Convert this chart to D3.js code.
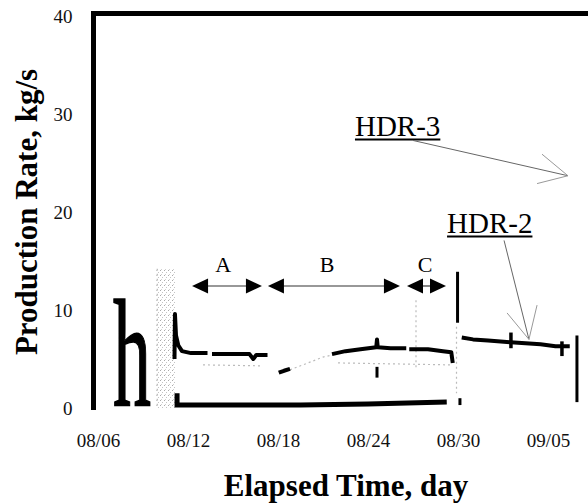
<!DOCTYPE html>
<html>
<head>
<meta charset="utf-8">
<script src="https://cdn.jsdelivr.net/npm/d3@7"></script>
<style>
body { margin: 0; background: #fff; }
svg text { font-family: "Liberation Serif", "Times New Roman", serif; }
</style>
</head>
<body>
<div id="chart"></div>
<script>
/* production rate vs elapsed time */

const width = 588, height = 504;

// days counted from 08/06
const tickDays = [0, 6, 12, 18, 24, 30];
const yTicks = [0, 10, 20, 30, 40];

// upper trace, before the restart ([day, kg/s], null = gap)
const hdr3Early = [[5.10, 5.0], [5.13, 9.6], [5.2, 7.4], [5.35, 6.4], [5.6, 5.8], [6.2, 5.6], [7.3, 5.6], null,
    [7.6, 5.5], [9.0, 5.5], [10.1, 5.5], [10.35, 5.0], [10.55, 5.4], [11.3, 5.4]];
const hdr3Dip = [[12.05, 3.6], [12.4, 3.8], [12.8, 4.0]];
const hdr3Late = [[15.6, 5.5], [16.5, 5.8], [17.5, 6.0], [18.55, 6.2], [18.6, 7.0], [18.65, 6.2], [19.5, 6.1],
    [20.55, 6.1], null, [20.75, 6.0], [22.0, 6.0], [23.0, 5.8], [23.55, 5.7], [23.65, 4.6]];
const hdr3Tick = [[18.6, 4.2], [18.6, 3.1]];
const restartSpike = [[23.97, 13.9], [23.97, 8.7]];
// HDR-2 after 08/30
const hdr2 = [[24.25, 7.2], [25.0, 7.0], [26.0, 6.9], [27.5, 6.7], [28.5, 6.6], [29.5, 6.5], [30.5, 6.3], [31.45, 6.3]];
const hdr2Spikes = [[27.53, 7.7, 6.1], [30.93, 6.8, 5.3]];
const shutIn = [[31.93, 7.4], [31.93, 0.6]];
// low trace near zero
const lowTrace = [[5.27, 1.5], [5.27, 0.3], [9, 0.3], [13.5, 0.3], [18, 0.4], [23.25, 0.6]];
const lowMark = [[24.13, 0.3], [24.13, 1.0]];
// faint scan traces
const faintTraces = [
    [[12.8, 3.9], [14, 4.6], [15, 5.2], [15.6, 5.4]],
    [[7, 4.4], [11, 4.3]],
    [[16, 4.6], [23.5, 4.4]],
    [[23.9, 8.3], [23.9, 1.5]],
    [[21.2, 11.0], [21.2, 3.9]],
    [[3.95, 14.2], [3.95, 0]]
];
const shadeBand = [3.9, 5.2, 0, 14.2];

// period labels A, B, C
const periodNames = ["A", "B", "C"];
const periodStart = [6.27, 11.33, 20.6];
const periodEnd = [10.93, 20.13, 23.2];
const periodLabelDay = [8.35, 15.27, 21.8];
const periodLevel = 12.45;

const base = new Date(1986, 7, 6);
const toDate = d => new Date(base.getTime() + d * 864e5);

const svg = d3.select("#chart")
    .append("svg")
    .attr("width", width)
    .attr("height", height)
    .attr("font-family", "Liberation Serif");

// speckle texture for the scanned band
const pat = svg.append("defs").append("pattern")
    .attr("id", "speckle")
    .attr("patternUnits", "userSpaceOnUse")
    .attr("width", 4).attr("height", 5);
pat.append("rect").attr("x", 0).attr("y", 0).attr("width", 1).attr("height", 1).attr("fill", "#aaa");
pat.append("rect").attr("x", 2).attr("y", 2).attr("width", 1).attr("height", 1).attr("fill", "#c4c4c4");
pat.append("rect").attr("x", 1).attr("y", 4).attr("width", 1).attr("height", 1).attr("fill", "#d0d0d0");

let x = d3.scaleTime()
    .domain([toDate(0), toDate(30)])
    .range([98, 548]);

let y = d3.scaleLinear()
    .domain([0, 40])
    .range([408, 16]);

let xd = d => x(toDate(d));

svg.append("rect")
    .attr("x", xd(shadeBand[0]))
    .attr("y", y(shadeBand[3]))
    .attr("width", xd(shadeBand[1]) - xd(shadeBand[0]))
    .attr("height", y(shadeBand[2]) - y(shadeBand[3]))
    .attr("fill", "url(#speckle)");

// axes
svg.append("g")
    .attr("transform", `translate(0,${y(0)})`)
    .call(d3.axisBottom(x).tickValues(tickDays.map(toDate)).tickFormat(d3.timeFormat("%m/%d")).tickSize(0).tickPadding(26))
    .call(g => g.select(".domain").remove())
    .selectAll("text")
    .attr("font-family", "Liberation Serif")
    .attr("font-size", 19)
    .attr("fill", "#111");

svg.append("g")
    .attr("transform", `translate(${xd(0) - 4.5},0)`)
    .call(d3.axisLeft(y).tickValues(yTicks).tickSize(0).tickPadding(21))
    .call(g => g.select(".domain").remove())
    .selectAll("text")
    .attr("font-family", "Liberation Serif")
    .attr("font-size", 19)
    .attr("fill", "#111");

// frame: left and top spines
svg.append("line")
    .attr("x1", xd(0) - 4.5).attr("x2", xd(0) - 4.5)
    .attr("y1", y(40) - 5).attr("y2", y(0) + 2)
    .attr("stroke", "#000").attr("stroke-width", 5);
svg.append("line")
    .attr("x1", xd(0) - 7).attr("x2", width)
    .attr("y1", y(40) - 2.5).attr("y2", y(40) - 2.5)
    .attr("stroke", "#000").attr("stroke-width", 5);

// axis titles
svg.append("text")
    .attr("x", 346)
    .attr("y", 496)
    .attr("text-anchor", "middle")
    .attr("font-size", 31)
    .attr("font-weight", "bold")
    .text("Elapsed Time, day");

svg.append("text")
    .attr("transform", "rotate(-90)")
    .attr("x", -212)
    .attr("y", 37)
    .attr("text-anchor", "middle")
    .attr("font-size", 31)
    .attr("font-weight", "bold")
    .text("Production Rate, kg/s");

// stray letter from the scan
svg.append("text")
    .attr("x", 113)
    .attr("y", 405)
    .attr("font-size", 152)
    .attr("textLength", 38)
    .attr("lengthAdjust", "spacingAndGlyphs")
    .attr("stroke", "#000")
    .attr("stroke-width", 1.6)
    .text("h");

let line = d3.line()
    .defined(d => d !== null)
    .x(d => xd(d[0]))
    .y(d => y(d[1]));

for (let t of faintTraces) {
    svg.append("path")
        .datum(t)
        .attr("d", line)
        .attr("fill", "none")
        .attr("stroke", "#bbb")
        .attr("stroke-width", 1.2)
        .attr("stroke-dasharray", "2,3");
}

for (let seg of [hdr3Early, hdr3Dip, hdr3Late, hdr2]) {
    svg.append("path")
        .datum(seg)
        .attr("d", line)
        .attr("fill", "none")
        .attr("stroke", "#000")
        .attr("stroke-width", 4)
        .attr("stroke-linejoin", "round");
}

for (let seg of [hdr3Tick, restartSpike, shutIn, lowMark]) {
    svg.append("path")
        .datum(seg)
        .attr("d", line)
        .attr("fill", "none")
        .attr("stroke", "#000")
        .attr("stroke-width", 3);
}

svg.append("path")
    .datum(lowTrace)
    .attr("d", line)
    .attr("fill", "none")
    .attr("stroke", "#000")
    .attr("stroke-width", 5);

svg.selectAll(".spike")
    .data(hdr2Spikes)
    .join("line")
    .attr("x1", d => xd(d[0])).attr("x2", d => xd(d[0]))
    .attr("y1", d => y(d[1])).attr("y2", d => y(d[2]))
    .attr("stroke", "#000")
    .attr("stroke-width", 3.5);

// period arrows
const ay = y(periodLevel);
periodNames.forEach((name, i) => {
    let x0 = xd(periodStart[i]), x1 = xd(periodEnd[i]);
    svg.append("line")
        .attr("x1", x0 + 10).attr("x2", x1 - 10)
        .attr("y1", ay).attr("y2", ay)
        .attr("stroke", "#333").attr("stroke-width", 1.2);
    svg.append("path")
        .attr("d", `M${x0},${ay}L${x0 + 16},${ay - 7.5}L${x0 + 16},${ay + 7.5}Z`)
        .attr("fill", "#000");
    svg.append("path")
        .attr("d", `M${x1},${ay}L${x1 - 16},${ay - 7.5}L${x1 - 16},${ay + 7.5}Z`)
        .attr("fill", "#000");
    svg.append("text")
        .attr("x", xd(periodLabelDay[i]))
        .attr("y", ay - 14)
        .attr("text-anchor", "middle")
        .attr("font-size", 22)
        .text(name);
});

// HDR labels with pointer arrows
const labelText = ["HDR-3", "HDR-2"];
const labelPos = [[17.13, 27.8], [23.27, 17.9]];
const pointerFrom = [[21.0, 27.3], [27.07, 17.1]];
const pointerTip = [[31.33, 23.7], [28.73, 7.0]];
const wingA = [[29.6, 25.9], [27.27, 9.7]];
const wingB = [[29.27, 22.9], [29.27, 10.5]];

labelText.forEach((t, i) => {
    let lbl = svg.append("text")
        .attr("x", xd(labelPos[i][0]))
        .attr("y", y(labelPos[i][1]))
        .attr("font-size", 29)
        .text(t);
    let w = lbl.node().getComputedTextLength();
    svg.append("line")
        .attr("x1", xd(labelPos[i][0])).attr("x2", xd(labelPos[i][0]) + w)
        .attr("y1", y(labelPos[i][1]) + 4).attr("y2", y(labelPos[i][1]) + 4)
        .attr("stroke", "#000").attr("stroke-width", 2);
    svg.append("line")
        .attr("x1", xd(pointerFrom[i][0])).attr("y1", y(pointerFrom[i][1]))
        .attr("x2", xd(pointerTip[i][0])).attr("y2", y(pointerTip[i][1]))
        .attr("stroke", "#666").attr("stroke-width", 1);
    for (let wp of [wingA[i], wingB[i]]) {
        svg.append("line")
            .attr("x1", xd(wp[0])).attr("y1", y(wp[1]))
            .attr("x2", xd(pointerTip[i][0])).attr("y2", y(pointerTip[i][1]))
            .attr("stroke", "#999").attr("stroke-width", 1);
    }
});
</script>
</body>
</html>
